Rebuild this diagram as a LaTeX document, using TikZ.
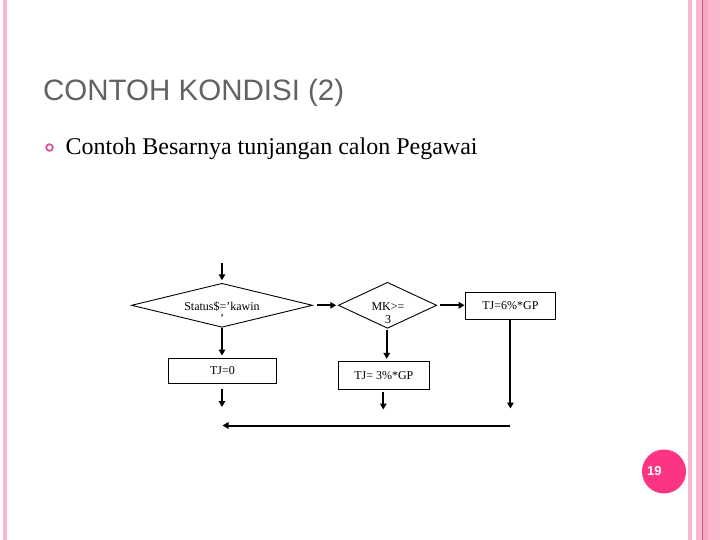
\documentclass[tikz,border=0pt]{standalone}
\usepackage{fontspec}
\setmainfont{Liberation Serif}
\newfontfamily\arialfont{Liberation Sans}
\usetikzlibrary{shapes.geometric,arrows.meta}
\definecolor{stripepink}{RGB}{249,182,205}
\definecolor{bandpink}{RGB}{244,166,194}
\definecolor{linepink}{RGB}{205,85,140}
\definecolor{hotpink}{RGB}{252,52,132}
\definecolor{titlegray}{RGB}{98,98,98}
\definecolor{bulletpink}{RGB}{214,84,160}
\tikzset{
  flowbox/.style={draw=black,line width=0.9pt,rectangle,inner sep=0pt,font=\fontsize{12}{13}\selectfont},
  decision/.style={draw=black,line width=0.9pt,diamond,inner sep=0pt},
  flowtext/.style={inner sep=0pt,font=\fontsize{12}{12}\selectfont,align=center},
  flowarrow/.style={line width=2pt,-{Triangle[length=6pt,width=6.5pt]}},
  flowline/.style={line width=2pt}
}
\begin{document}
\begin{tikzpicture}[x=1pt,y=-1pt]
\useasboundingbox (0,0) rectangle (720,540);
% decorative stripes
\fill[stripepink] (2.5,0) rectangle (6.7,540);
\fill[stripepink] (688,0) rectangle (692.3,540);
\fill[stripepink] (696,0) rectangle (720,540);
\fill[bandpink] (702.7,0) rectangle (708,540);
\draw[linepink,line width=0.8pt] (702.3,0) -- (702.3,540);
% page number
\node[circle,fill=hotpink,minimum size=44pt,inner sep=0pt] (pg) at (664,471.5) {};
\node[text=white,font=\arialfont\bfseries\fontsize{13}{14}\selectfont,anchor=west,inner sep=0pt] (pgnum) at (647,471.5) {19};
% title
\node[text=titlegray,font=\arialfont\fontsize{29.5}{32}\selectfont,anchor=base west,inner sep=0pt] (title) at (43,101) {CONTOH KONDISI (2)};
% bullet
\draw[bulletpink,line width=1.8pt] (49.5,147.5) circle (3.3);
\node[font=\fontsize{24}{26}\selectfont,anchor=base west,inner sep=0pt] (sub) at (65.5,155) {Contoh Besarnya tunjangan calon Pegawai};
% flowchart
\node[decision,minimum width=181pt,minimum height=44pt] (d1) at (222,305.3) {};
\node[flowtext,anchor=base] (d1t1) at (222,310.5) {Status\$=’kawin};
\node[flowtext,anchor=base] (d1t2) at (222,322) {’};
\node[decision,minimum width=98.4pt,minimum height=46pt] (d2) at (387.5,305.3) {};
\node[flowtext,anchor=base] (d2t1) at (388,310.5) {MK>=};
\node[flowtext,anchor=base] (d2t2) at (388,323.5) {3};
\node[flowbox,minimum width=90.7pt,minimum height=27pt] (b6) at (510.4,305.8) {TJ=6\%*GP};
\node[flowbox,minimum width=108.4pt,minimum height=25pt] (b0) at (222.5,370.8) {TJ=0};
\node[flowbox,minimum width=91pt,minimum height=27.3pt] (b3) at (383.8,375.3) {TJ= 3\%*GP};
% connectors
\coordinate (in) at (222,263);
\coordinate (o0) at (222,407);
\coordinate (o3) at (383.3,409.5);
\coordinate (o6) at (510.4,408.5);
\coordinate (jr) at (510.4,425.5);
\coordinate (jl) at (222.5,425.5);
\coordinate (m3) at (386.7,330);
\draw[flowarrow,shorten >=2.6pt] (in) -- (d1.north);
\draw[flowarrow,shorten <=4pt,shorten >=1.6pt] (d1.east) -- (d2.west);
\draw[flowarrow,shorten <=3.3pt] (d2.east) -- (d2.east -| b6.west);
\draw[flowarrow,shorten >=2.3pt] (d1.south) -- (d1.south |- b0.north);
\draw[flowarrow,shorten >=2.4pt] (m3) -- (m3 |- b3.north);
\draw[flowarrow,shorten <=5pt] (b0.south -| o0) -- (o0);
\draw[flowarrow,shorten <=2.7pt] (b3.south -| o3) -- (o3);
\draw[flowarrow] (b6.south) -- (o6);
\draw[flowarrow] (jr) -- (jl);
\end{tikzpicture}
\end{document}
